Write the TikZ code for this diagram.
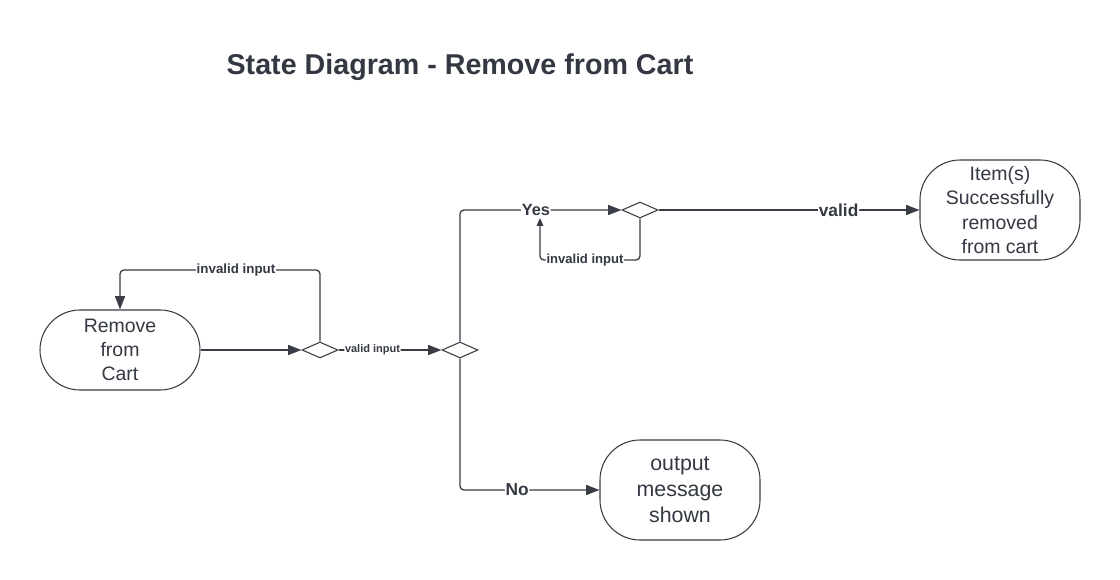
\documentclass[tikz,border=0pt]{standalone}
\usepackage{fontspec}
\setmainfont{Liberation Sans}
\usetikzlibrary{arrows.meta,shapes.geometric}
\definecolor{ink}{HTML}{3A3D45}
\definecolor{txt}{HTML}{333842}
\begin{document}
\begin{tikzpicture}[x=0.75pt,y=-0.75pt,
  line/.style={draw=ink,line width=1pt,rounded corners=3pt},
  arr/.style={line,-{Triangle[length=10pt,width=7.5pt]}},
  state/.style={draw=ink,line width=0.8pt,rounded corners=30pt,minimum width=120pt,text=txt,align=center,font=\fontsize{14.6}{18.2}\selectfont,inner sep=0pt},
  dec/.style={draw=ink,line width=0.8pt,diamond,aspect=2.25,minimum width=27pt,minimum height=12pt,inner sep=0pt,fill=white},
  lab/.style={fill=white,text=txt,font=\bfseries\fontsize{#1}{#1}\selectfont,inner sep=0.5pt}
]
\useasboundingbox[fill=white] (0,0) rectangle (1120,580);
\node[text=txt,font=\bfseries\fontsize{21.5}{24}\selectfont] (title) at (460,67) {State Diagram - Remove from Cart};

\node[state,minimum height=60pt] (rm) at (120,350) {Remove\\from\\Cart};
\node[state,minimum height=75pt] (ok) at (1000,210) {\raisebox{-2pt}{}Item(s)\\Successfully\\removed\\from cart};
\node[state,minimum height=75pt,font=\fontsize{16}{19.5}\selectfont] (msg) at (680,490) {output\\message\\shown};

\node[dec] (d1) at (320,350) {};
\node[dec] (d2) at (460,350) {};
\node[dec] (d3) at (640,210) {};

\coordinate (c1) at (320,270);
\coordinate (c2) at (120,270);
\coordinate (c3) at (460,210);
\coordinate (c4) at (640,260);
\coordinate (c5) at (540,260);
\coordinate (c6) at (540,218);
\coordinate (c7) at (460,490);

\draw[arr] (rm.east) -- (d1.west);
\draw[arr] (d1.north) -- (c1) -- node[lab=10,pos=0.42]{invalid input} (c2) -- (rm.north);
\draw[arr] (d1.east) -- node[lab=8.25,pos=0.33]{valid input} (d2.west);
\draw[arr] (d2.north) -- (c3) -- node[lab=12.2,pos=0.47]{Yes} (d3.west);
\draw[arr,-{Triangle[length=6pt,width=5pt]}] (d3.south) -- (c4) -- node[lab=9.8,pos=0.55]{invalid input} (c5) -- (c6);
\draw[arr] (d3.east) -- node[lab=13,pos=0.69]{valid} (ok.west);
\draw[arr] (d2.south) -- (c7) -- node[lab=13,pos=0.41]{No} (msg.west);
\end{tikzpicture}
\end{document}
